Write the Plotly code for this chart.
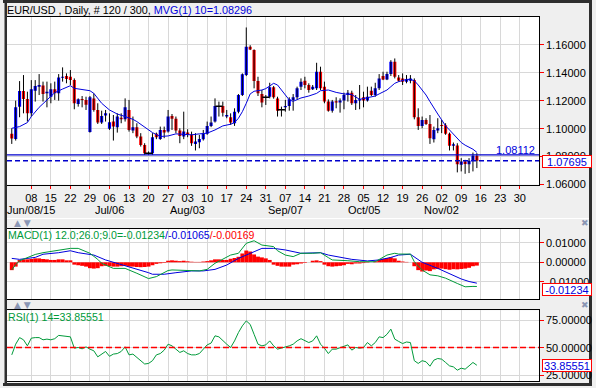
import plotly.graph_objects as go

# ---------------- data ----------------
opens = [1.0962, 1.0926, 1.1157, 1.1269, 1.1212, 1.1109, 1.1271, 1.1300, 1.1309, 1.1252,
         1.1228, 1.1281, 1.1252, 1.1364, 1.1376, 1.1371, 1.1347, 1.1176, 1.1212, 1.1205,
         1.0976, 1.1216, 1.1133, 1.1043, 1.1093, 1.0998, 1.1050, 1.1010, 1.1078, 1.1066,
         1.1133, 1.0986, 1.1010, 1.0943, 1.0883, 1.0824, 1.0824, 1.0962, 1.0926, 1.0990,
         1.0978, 1.1090, 1.1071, 1.0986, 1.0943, 1.0971, 1.0955, 1.0890, 1.0902, 1.0924,
         1.0962, 1.1019, 1.1050, 1.1160, 1.1162, 1.1086, 1.1081, 1.1038, 1.1121, 1.1240,
         1.1383, 1.1586, 1.1562, 1.1340, 1.1247, 1.1225, 1.1228, 1.1295, 1.1216, 1.1134,
         1.1152, 1.1162, 1.1205, 1.1224, 1.1300, 1.1343, 1.1312, 1.1281, 1.1288, 1.1407,
         1.1300, 1.1193, 1.1128, 1.1195, 1.1186, 1.1200, 1.1240, 1.1257, 1.1181, 1.1200,
         1.1224, 1.1200, 1.1271, 1.1240, 1.1288, 1.1376, 1.1352, 1.1390, 1.1478, 1.1366,
         1.1359, 1.1336, 1.1343, 1.1347, 1.1081, 1.1019, 1.1062, 1.1033, 1.0924, 1.0986,
         1.1026, 1.1024, 1.0962, 1.0876, 1.0878, 1.0740, 1.0764, 1.0745, 1.0769, 1.0805]
highs = [1.1002, 1.1200, 1.1340, 1.1383, 1.1264, 1.1347, 1.1347, 1.1390, 1.1336, 1.1336,
         1.1324, 1.1336, 1.1390, 1.1438, 1.1395, 1.1419, 1.1359, 1.1216, 1.1233, 1.1228,
         1.1233, 1.1252, 1.1181, 1.1128, 1.1133, 1.1109, 1.1097, 1.1109, 1.1109, 1.1216,
         1.1205, 1.1086, 1.1038, 1.0967, 1.0895, 1.0836, 1.0967, 1.0971, 1.1014, 1.1014,
         1.1133, 1.1104, 1.1086, 1.1002, 1.1121, 1.0995, 1.0978, 1.0967, 1.0955, 1.0990,
         1.1050, 1.1086, 1.1216, 1.1193, 1.1193, 1.1133, 1.1109, 1.1145, 1.1247, 1.1395,
         1.1724, 1.1597, 1.1567, 1.1371, 1.1276, 1.1240, 1.1328, 1.1305, 1.1228, 1.1157,
         1.1205, 1.1224, 1.1247, 1.1300, 1.1359, 1.1371, 1.1324, 1.1312, 1.1471, 1.1443,
         1.1336, 1.1209, 1.1205, 1.1224, 1.1216, 1.1257, 1.1276, 1.1271, 1.1240, 1.1312,
         1.1264, 1.1300, 1.1300, 1.1328, 1.1390, 1.1407, 1.1407, 1.1490, 1.1502, 1.1383,
         1.1395, 1.1383, 1.1383, 1.1359, 1.1145, 1.1086, 1.1074, 1.1097, 1.1014, 1.1074,
         1.1062, 1.1038, 1.0971, 1.0900, 1.0895, 1.0788, 1.0776, 1.0788, 1.0828, 1.0824]
lows = [1.0890, 1.0914, 1.1081, 1.1109, 1.1050, 1.1086, 1.1193, 1.1240, 1.1193, 1.1152,
        1.1181, 1.1205, 1.1200, 1.1336, 1.1324, 1.1312, 1.1138, 1.1157, 1.1152, 1.1133,
        1.0971, 1.1121, 1.1033, 1.1033, 1.1050, 1.0990, 1.0914, 1.0971, 1.1038, 1.1050,
        1.0978, 1.0967, 1.0931, 1.0871, 1.0812, 1.0812, 1.0812, 1.0924, 1.0919, 1.0931,
        1.0971, 1.0990, 1.0967, 1.0895, 1.0924, 1.0938, 1.0876, 1.0843, 1.0859, 1.0914,
        1.0955, 1.1010, 1.1043, 1.1086, 1.1086, 1.1074, 1.1026, 1.1019, 1.1109, 1.1233,
        1.1376, 1.1562, 1.1288, 1.1233, 1.1152, 1.1169, 1.1216, 1.1214, 1.1086, 1.1086,
        1.1121, 1.1128, 1.1128, 1.1209, 1.1276, 1.1288, 1.1257, 1.1276, 1.1276, 1.1276,
        1.1181, 1.1121, 1.1114, 1.1145, 1.1114, 1.1138, 1.1193, 1.1169, 1.1133, 1.1138,
        1.1152, 1.1193, 1.1233, 1.1228, 1.1276, 1.1347, 1.1347, 1.1376, 1.1359, 1.1336,
        1.1312, 1.1324, 1.1324, 1.1066, 1.0990, 1.1002, 1.1026, 1.0890, 1.0900, 1.0967,
        1.0967, 1.0955, 1.0843, 1.0843, 1.0686, 1.0693, 1.0676, 1.0681, 1.0693, 1.0717]
closes = [1.0928, 1.1152, 1.1269, 1.1212, 1.1109, 1.1281, 1.1305, 1.1312, 1.1247, 1.1264,
          1.1281, 1.1252, 1.1366, 1.1371, 1.1355, 1.1347, 1.1181, 1.1209, 1.1205, 1.1171,
          1.1224, 1.1133, 1.1043, 1.1090, 1.1109, 1.1045, 1.1014, 1.1086, 1.1066, 1.1152,
          1.0990, 1.1010, 1.0943, 1.0883, 1.0824, 1.0824, 1.0938, 1.0938, 1.0990, 1.0971,
          1.1086, 1.1071, 1.0986, 1.0947, 1.0978, 1.0955, 1.0895, 1.0907, 1.0926, 1.0962,
          1.1019, 1.1043, 1.1162, 1.1160, 1.1114, 1.1097, 1.1043, 1.1121, 1.1240, 1.1388,
          1.1586, 1.1567, 1.1340, 1.1252, 1.1186, 1.1225, 1.1295, 1.1224, 1.1128, 1.1134,
          1.1162, 1.1209, 1.1224, 1.1288, 1.1336, 1.1312, 1.1276, 1.1300, 1.1407, 1.1288,
          1.1193, 1.1128, 1.1193, 1.1186, 1.1200, 1.1240, 1.1257, 1.1181, 1.1205, 1.1209,
          1.1200, 1.1228, 1.1240, 1.1288, 1.1359, 1.1352, 1.1390, 1.1478, 1.1371, 1.1343,
          1.1336, 1.1352, 1.1359, 1.1081, 1.1019, 1.1062, 1.1033, 1.0931, 1.0990, 1.1002,
          1.1019, 1.0962, 1.0876, 1.0888, 1.0745, 1.0764, 1.0747, 1.0769, 1.0805, 1.07695]

ma_bar = [0, 2, 4, 5, 7, 9, 11, 13, 15, 16, 18, 20, 21, 23, 25, 27, 29, 31, 32, 34, 36, 38, 40,
          42, 44, 46, 48, 50, 52, 54, 56, 57, 58, 59, 60, 61, 62, 64, 65, 66, 67, 68, 69, 70,
          71, 72, 73, 74, 76, 78, 79, 81, 83, 85, 87, 89, 91, 93, 94, 96, 97, 98, 99, 100, 101,
          102, 103, 104, 105, 106, 107, 108, 109, 110, 111, 112, 113, 114, 115, 116, 117, 118, 119]
ma_value = [1.1002, 1.1014, 1.1043, 1.1086, 1.1152, 1.1205, 1.1257, 1.1283, 1.1307, 1.1288,
            1.1281, 1.1271, 1.1252, 1.1181, 1.1133, 1.1104, 1.1086, 1.1066, 1.1050, 1.1010,
            1.0971, 1.0943, 1.0947, 1.0962, 1.0960, 1.0955, 1.0962, 1.0967, 1.0990, 1.1019,
            1.1031, 1.1043, 1.1074, 1.1121, 1.1181, 1.1248, 1.1267, 1.1276, 1.1286, 1.1305,
            1.1324, 1.1312, 1.1276, 1.1233, 1.1205, 1.1195, 1.1209, 1.1219, 1.1233, 1.1252,
            1.1271, 1.1276, 1.1259, 1.1248, 1.1243, 1.1209, 1.1221, 1.1233, 1.1248, 1.1276,
            1.1300, 1.1324, 1.1336, 1.1345, 1.1352, 1.1352, 1.1343, 1.1312, 1.1276, 1.1240,
            1.1193, 1.1145, 1.1104, 1.1062, 1.1019, 1.0990, 1.0962, 1.0931, 1.0900, 1.0881,
            1.0867, 1.0852, 1.08296]

macd_bar = [0, 1, 2, 4, 6, 8, 11, 15, 17, 20, 22, 23, 26, 29, 32, 35, 37, 40, 41, 45, 48, 50,
            52, 56, 58, 60, 62, 64, 67, 68, 70, 72, 74, 77, 79, 81, 82, 86, 89, 93, 96, 98, 99,
            102, 103, 105, 107, 109, 111, 114, 116, 118, 119]
macd_value = [-0.0039, -0.0012, 0.0008, 0.0025, 0.0040, 0.0049, 0.0059, 0.0071, 0.0071, 0.0046,
              0.0015, -0.0005, -0.0031, -0.0031, -0.0056, -0.0083, -0.0073, -0.0042, -0.0039,
              -0.0044, -0.0044, -0.0036, -0.0005, 0.0037, 0.0046, 0.0097, 0.0110, 0.0088, 0.0080,
              0.0059, 0.0037, 0.0029, 0.0046, 0.0046, 0.0049, 0.0024, 0.0012, 0.0008, 0.0003,
              0.0003, 0.0037, 0.0046, 0.0042, 0.0042, 0.0003, -0.0039, -0.0064, -0.0069, -0.0081,
              -0.0108, -0.0125, -0.0123, -0.01234]
signal_bar = [0, 2, 6, 8, 12, 15, 17, 21, 24, 27, 31, 35, 36, 39, 42, 46, 49, 52, 55, 58, 62,
              64, 67, 70, 74, 77, 79, 81, 84, 87, 91, 94, 97, 99, 102, 105, 109, 111, 115, 117, 119]
signal_value = [0.0020, 0.0015, 0.0025, 0.0041, 0.0049, 0.0059, 0.0049, 0.0037, 0.0012, -0.0005,
                -0.0031, -0.0053, -0.0061, -0.0061, -0.0053, -0.0044, -0.0044, -0.0036, -0.0014,
                0.0020, 0.0054, 0.0071, 0.0071, 0.0063, 0.0046, 0.0046, 0.0049, 0.0037, 0.0025,
                0.0015, 0.0007, 0.0012, 0.0025, 0.0037, 0.0041, 0.0000, -0.0031, -0.0050, -0.0085,
                -0.0098, -0.01065]
hist_value = [-0.0040, -0.0022, 0.0012, 0.0015, 0.0015, 0.0017, 0.0020, 0.0020, 0.0017, 0.0015,
              0.0012, 0.0012, 0.0015, 0.0015, 0.0010, 0.0010, -0.0012, -0.0015, -0.0018, -0.0022,
              -0.0030, -0.0032, -0.0030, -0.0020, -0.0018, -0.0020, -0.0022, -0.0022, -0.0020, -0.0018,
              -0.0022, -0.0022, -0.0024, -0.0025, -0.0024, -0.0022, -0.0015, -0.0008, -0.0005, -0.0003,
              0.0008, 0.0010, 0.0008, 0.0006, 0.0008, 0.0005, 0.0003, 0.0002, 0.0002, 0.0004,
              0.0006, 0.0010, 0.0015, 0.0015, 0.0012, 0.0012, 0.0018, 0.0022, 0.0028, 0.0045,
              0.0060, 0.0055, 0.0040, 0.0029, 0.0025, 0.0020, 0.0012, -0.0012, -0.0018, -0.0022,
              -0.0022, -0.0022, -0.0012, -0.0010, -0.0006, -0.0003, 0.0000, 0.0008, 0.0010, 0.0006,
              -0.0012, -0.0020, -0.0022, -0.0020, -0.0018, -0.0015, -0.0008, -0.0010, -0.0006, -0.0006,
              -0.0004, -0.0002, 0.0000, 0.0005, 0.0012, 0.0018, 0.0022, 0.0025, 0.0020, 0.0008,
              0.0004, 0.0002, 0.0000, -0.0020, -0.0040, -0.0047, -0.0042, -0.0045, -0.0036, -0.0034,
              -0.0032, -0.0035, -0.0038, -0.0035, -0.0036, -0.0034, -0.0032, -0.0028, -0.0020, -0.00169]
rsi_value = [43.3, 53.0, 59.0, 57.0, 51.5, 58.5, 59.0, 59.0, 57.0, 57.6,
             57.0, 58.0, 61.0, 60.6, 60.0, 59.7, 49.4, 50.0, 48.8, 50.6,
             48.5, 47.0, 41.5, 44.0, 46.4, 42.0, 44.0, 44.5, 46.4, 50.6,
             43.3, 44.0, 41.0, 38.0, 35.0, 35.5, 38.0, 43.3, 44.5, 47.6,
             53.0, 51.5, 48.5, 45.5, 47.0, 44.5, 43.3, 43.3, 44.5, 48.5,
             52.4, 54.0, 60.6, 59.7, 56.0, 53.0, 50.0, 56.0, 63.6, 69.7,
             74.2, 71.0, 62.0, 53.0, 51.5, 52.4, 56.0, 51.5, 48.5, 49.4,
             51.0, 51.5, 53.0, 56.0, 58.0, 56.0, 54.5, 56.0, 60.6, 53.0,
             49.4, 44.5, 48.5, 48.5, 50.0, 51.5, 52.4, 47.6, 50.0, 49.4,
             50.0, 54.5, 51.5, 54.5, 59.7, 59.0, 62.0, 66.7, 57.6, 55.5,
             53.6, 55.0, 54.5, 38.0, 35.5, 38.0, 37.0, 33.0, 38.5, 40.0,
             39.4, 36.4, 33.3, 32.4, 29.4, 31.2, 30.3, 33.3, 36.4, 33.85551]

tick_days = ["08", "15", "22", "29", "06", "13", "20", "27", "03", "10", "17", "24", "31",
             "07", "14", "21", "28", "05", "12", "19", "26", "02", "09", "16", "23", "30"]
tick_months = ["Jun/08/15", "", "", "", "Jul/06", "", "", "", "Aug/03", "", "", "", "",
               "Sep/07", "", "", "", "Oct/05", "", "", "", "Nov/02", "", "", "", ""]
price_ticks = [1.06, 1.08, 1.10, 1.12, 1.14, 1.16]
macd_ticks = [-0.01, 0.0, 0.01]
rsi_ticks = [25, 50, 75]

level_line = 1.08112
last_close = closes[-1]
ma_last = ma_value[-1]
macd_last, signal_last, hist_last = -0.01234, -0.01065, -0.00169
rsi_last = rsi_value[-1]
total_bars = 300

# ---------------- figure ----------------
W, H = 596, 388


def PX(x):
    return x / W


def PY(y):
    return 1 - y / H


FONT = "Liberation Sans, Arial, sans-serif"
BLUE = "#0000ff"
TXTBLUE = "#0000dd"
RED = "#ff0000"
GREEN = "#009a3a"
GRID = "#d8d8d8"

bars = list(range(len(closes)))
body_base = [min(o, c) for o, c in zip(opens, closes)]
body_h = [abs(c - o) for o, c in zip(opens, closes)]
body_col = [BLUE if c > o else (RED if c < o else "black") for o, c in zip(opens, closes)]

wick_x, wick_y = [], []
for i, lo, hi in zip(bars, lows, highs):
    wick_x += [i, i, None]
    wick_y += [lo, hi, None]

doji_x = [i for i, o, c in zip(bars, opens, closes) if o == c]
doji_y = [c for o, c in zip(opens, closes) if o == c]

fig = go.Figure()
fig.add_trace(go.Scatter(x=wick_x, y=wick_y, mode="lines", line=dict(color="black", width=1),
                         xaxis="x", yaxis="y", hoverinfo="skip"))
fig.add_trace(go.Bar(x=bars, y=body_h, base=body_base, width=0.8,
                     marker=dict(color=body_col, line=dict(width=0)), xaxis="x", yaxis="y"))
fig.add_trace(go.Scatter(x=doji_x, y=doji_y, mode="markers",
                         marker=dict(symbol="line-ew", size=5, line=dict(color="black", width=1.5)),
                         xaxis="x", yaxis="y"))
fig.add_trace(go.Scatter(x=ma_bar, y=ma_value, mode="lines", line=dict(color=TXTBLUE, width=1),
                         xaxis="x", yaxis="y"))

fig.add_trace(go.Bar(x=bars, y=hist_value, width=1.0, marker=dict(color=RED, line=dict(width=0)),
                     xaxis="x2", yaxis="y2"))
fig.add_trace(go.Scatter(x=signal_bar, y=signal_value, mode="lines", line=dict(color=TXTBLUE, width=1),
                         xaxis="x2", yaxis="y2"))
fig.add_trace(go.Scatter(x=macd_bar, y=macd_value, mode="lines", line=dict(color=GREEN, width=1),
                         xaxis="x2", yaxis="y2"))

fig.add_trace(go.Scatter(x=bars, y=rsi_value, mode="lines", line=dict(color=GREEN, width=1),
                         xaxis="x3", yaxis="y3"))

x_dom = [PX(7), PX(539)]
x_rng = [-1.22, 134.9]
tickvals = [5 * (k + 1) for k in range(len(tick_days))]

common_x = dict(domain=x_dom, range=x_rng, showgrid=True, gridcolor=GRID, gridwidth=1,
                zeroline=False, showline=True, mirror=True, linecolor="black", linewidth=1,
                tickvals=tickvals, fixedrange=True)
common_y = dict(side="right", showgrid=True, gridcolor=GRID, gridwidth=1, zeroline=False,
                showline=True, mirror=True, linecolor="black", linewidth=1, ticks="outside",
                ticklen=4, tickcolor=RED, tickwidth=1, showticklabels=False, fixedrange=True)

fig.update_layout(
    width=W, height=H, margin=dict(l=0, r=0, t=0, b=0),
    paper_bgcolor="#efefef", plot_bgcolor="white", showlegend=False, barmode="overlay",
    hovermode=False, dragmode=False,
    font=dict(family=FONT, size=11, color="black"),
    xaxis=dict(common_x, anchor="y", ticktext=tick_days, ticks="outside", ticklen=3, tickangle=0,
               tickcolor=RED, tickfont=dict(family=FONT, size=11, color="black")),
    xaxis2=dict(common_x, anchor="y2", showticklabels=False, ticks=""),
    xaxis3=dict(common_x, anchor="y3", showticklabels=False, ticks=""),
    yaxis=dict(common_y, domain=[PY(184.5), PY(17)], range=[1.05993, 1.17989], tickvals=price_ticks,
               anchor="x"),
    yaxis2=dict(common_y, domain=[PY(299), PY(229)], range=[-0.018724, 0.01699], tickvals=macd_ticks,
                anchor="x2"),
    yaxis3=dict(common_y, domain=[PY(381), PY(310.3)], range=[19.55, 83.82], tickvals=rsi_ticks,
                anchor="x3"),
)

shapes = []
shapes.append(dict(type="line", xref="x domain", yref="y", x0=0, x1=1, y0=level_line, y1=level_line,
                   line=dict(color="#0000cc", width=1.3), layer="above"))
shapes.append(dict(type="line", xref="x domain", yref="y", x0=0, x1=1, y0=last_close, y1=last_close,
                   line=dict(color="#0000cc", width=1.3, dash="5px,3px"), layer="above"))
shapes.append(dict(type="line", xref="x3 domain", yref="y3", x0=0, x1=1, y0=50, y1=50,
                   line=dict(color=RED, width=1.3, dash="6px,3px"), layer="above"))
shapes.append(dict(type="line", xref="paper", yref="paper", x0=PX(7), x1=PX(589), y0=PY(218.5),
                   y1=PY(218.5), line=dict(color="white", width=1)))
FR = "#2e2e2e"
for (x0, y0, x1, y1) in [(3, 0, 592, 3), (4.5, 0, 7, 386), (589, 0, 592, 386), (3, 383, 592, 386)]:
    shapes.append(dict(type="rect", xref="paper", yref="paper", x0=PX(x0), x1=PX(x1), y0=PY(y1), y1=PY(y0),
                       fillcolor=FR, line=dict(width=0), layer="above"))
fig.update_layout(shapes=shapes)

ann = []
for tv, m in zip(tickvals, tick_months):
    if m:
        ann.append(dict(xref="x", yref="paper", x=tv, y=PY(210), xanchor="center", yanchor="middle",
                        showarrow=False, font=dict(family=FONT, size=11, color="black"), text=m))
for yref, vals in (("y", price_ticks), ("y2", macd_ticks), ("y3", rsi_ticks)):
    for v in vals:
        ann.append(dict(xref="paper", yref=yref, x=PX(543.5), y=v, xanchor="left", yanchor="middle",
                        showarrow=False, font=dict(family=FONT, size=11, color="black"),
                        text="%.5f" % v))
ann.append(dict(xref="paper", yref="paper", x=PX(5), y=PY(10), xanchor="left", yanchor="middle",
                showarrow=False, font=dict(family=FONT, size=10.8, color="black"),
                text="EUR/USD , Daily, # %d / %d, <span style='color:%s'>MVG(1) 10=%.5f</span>"
                     % (len(closes), total_bars, TXTBLUE, ma_last)))
ann.append(dict(xref="paper", yref="paper", x=PX(6), y=PY(235), xanchor="left", yanchor="middle",
                showarrow=False, font=dict(family=FONT, size=10.6, color=GREEN),
                text="MACD(1) 12.0;26.0;9.0=%.5f<span style='color:%s'>/%.5f</span>"
                     "<span style='color:#ff0000'>/%.5f</span>" % (macd_last, TXTBLUE, signal_last, hist_last)))
ann.append(dict(xref="paper", yref="paper", x=PX(6), y=PY(316.5), xanchor="left", yanchor="middle",
                showarrow=False, font=dict(family=FONT, size=10.6, color=GREEN),
                text="RSI(1) 14=%.5f" % rsi_last))
ann.append(dict(xref="paper", yref="paper", x=PX(537), y=PY(150), xanchor="right", yanchor="middle",
                showarrow=False, font=dict(family=FONT, size=11, color=TXTBLUE),
                text="%.5f" % level_line))
for val, yc in [(last_close, 161.7), (macd_last, 289.3), (rsi_last, 365.7)]:
    ann.append(dict(xref="paper", yref="paper", x=PX(542), y=PY(yc), xanchor="left", yanchor="middle",
                    showarrow=False, font=dict(family=FONT, size=11, color=TXTBLUE),
                    text="%.5f" % val, bgcolor="white", bordercolor=RED, borderwidth=1, borderpad=0,
                    width=48, height=11, align="center"))
for yc in (223.5, 304.5):
    ann.append(dict(xref="paper", yref="paper", x=PX(12), y=PY(yc), xanchor="left", yanchor="middle",
                    showarrow=False, font=dict(family="DejaVu Sans", size=9, color="#8a96b4"),
                    text="\u25b2 \u25bc"))
    ann.append(dict(xref="paper", yref="paper", x=PX(585), y=PY(yc), xanchor="center", yanchor="middle",
                    showarrow=False, font=dict(family="DejaVu Sans", size=9, color="#8a96b4"),
                    text="\u2716"))
fig.update_layout(annotations=ann)

fig.write_html("out.html",
               config={"displayModeBar": False, "staticPlot": True},
               post_script="document.body.style.margin='0';document.body.style.padding='0';"
                           "document.documentElement.style.overflow='hidden';")
